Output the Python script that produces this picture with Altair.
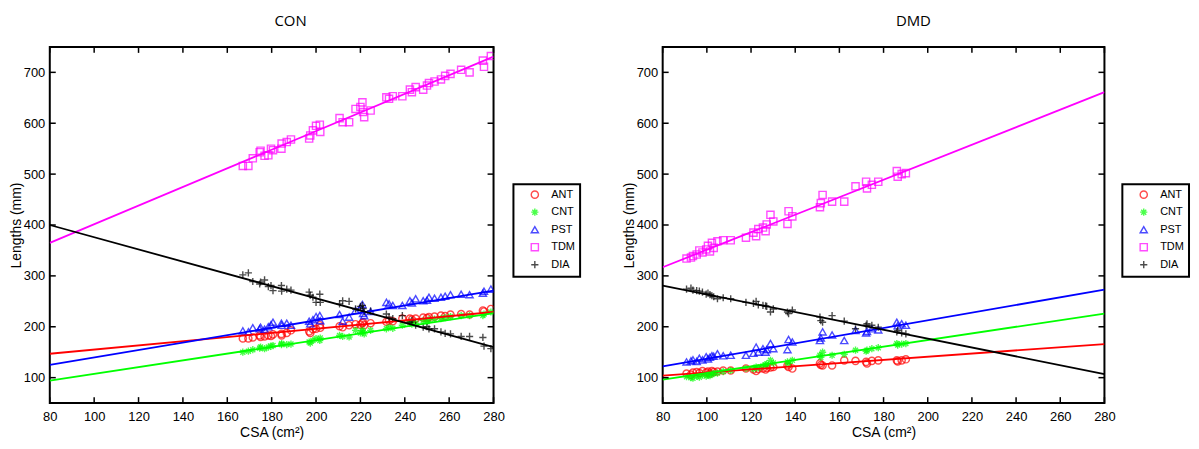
import altair as alt
import pandas as pd

SERIES = ["ANT", "CNT", "PST", "TDM", "DIA"]
COLORS = ["#ff0000", "#00ff00", "#0000ff", "#ff00ff", "#000000"]
ASTERISK = "M-1,0L1,0M0,-1L0,1M-0.7,-0.7L0.7,0.7M-0.7,0.7L0.7,-0.7"
PLUS = "M-1,0L1,0M0,-1L0,1"
SHAPES = ["circle", ASTERISK, "triangle-up", "square", PLUS]

X_TICKS = [80, 100, 120, 140, 160, 180, 200, 220, 240, 260, 280]
Y_TICKS = [100, 200, 300, 400, 500, 600, 700]
FIT_X = [80, 280]

# ---- CON ----
CON_CSA = [167.0, 169.5, 171.5, 174.6, 175.0, 176.8, 178.5, 179.7, 180.6, 184.4,
           184.5, 186.8, 188.7, 196.9, 197.4, 198.6, 200.0, 201.7, 201.9, 210.6,
           212.0, 214.9, 217.8, 220.0, 220.9, 221.2, 221.7, 224.6, 231.7, 232.9,
           234.6, 238.9, 242.3, 243.2, 244.9, 248.3, 250.0, 250.9, 253.4, 256.3,
           258.2, 260.6, 265.4, 269.2, 275.2, 275.7, 278.8]
CON_ANT = [177, 177, 179, 183, 180, 181, 183, 182, 185, 186, 183, 188, 193, 191, 188, 195,
           196, 203, 198, 201, 199, 203, 205, 204, 207, 209, 203, 207, 210, 212, 211, 216,
           216, 214, 216, 218, 217, 219, 220, 222, 221, 224, 225, 224, 232, 230, 235]
CON_CNT = [150, 152, 155, 158, 160, 157, 160, 162, 163, 165, 167, 165, 166, 170, 168, 173,
           177, 173, 178, 183, 181, 180, 193, 188, 193, 190, 186, 193, 196, 199, 197, 203,
           209, 205, 207, 212, 210, 214, 215, 216, 218, 220, 222, 222, 222, 225, 229]
CON_PST = [192, 190, 198, 196, 199, 195, 200, 204, 209, 207, 203, 207, 203, 211, 206, 214,
           220, 222, 212, 224, 211, 219, 232, 238, 244, 226, 222, 230, 248, 245, 242, 242,
           251, 247, 255, 251, 252, 258, 256, 258, 260, 263, 264, 263, 266, 270, 274]
CON_TDM = [516, 516, 531, 543, 546, 536, 537, 550, 547, 550, 560, 563, 568, 570, 576, 586,
           595, 597, 583, 610, 602, 602, 628, 632, 641, 622, 612, 625, 651, 648, 653, 653,
           666, 661, 671, 666, 674, 679, 682, 686, 693, 697, 705, 700, 723, 711, 732]
CON_DIA = [302, 306, 289, 284, 288, 292, 279, 281, 271, 281, 270, 274, 272, 268, 262, 258,
           248, 264, 248, 245, 251, 250, 235, 240, 242, 236, 229, 231, 225, 219, 216, 222,
           209, 212, 203, 199, 200, 196, 196, 190, 187, 186, 181, 181, 179, 162, 157]
CON_FIT_START = [147, 94, 125, 365, 400]   # at CSA = 80, order of SERIES
CON_FIT_END = [229, 227, 271, 731, 160]    # at CSA = 280

# ---- DMD ----
DMD_CSA = [90.8, 92.8, 93.7, 95.4, 96.6, 98.0, 99.7, 100.5, 101.4, 102.3,
           103.1, 104.8, 107.4, 110.8, 117.7, 121.1, 122.3, 123.3, 125.4, 126.6,
           127.1, 128.8, 130.1, 136.5, 137.0, 138.7, 151.2, 151.6, 152.4, 156.7,
           162.2, 167.3, 172.1, 172.5, 174.7, 177.6, 186.0, 186.4, 188.2, 190.1]
DMD_ANT = [108, 106, 110, 111, 109, 113, 110, 112, 108, 113, 111, 112, 114, 114, 118, 116,
           113, 117, 118, 116, 119, 120, 121, 124, 121, 118, 128, 125, 124, 124, 134, 133,
           131, 128, 133, 134, 134, 132, 134, 136]
DMD_CNT = [102, 100, 99, 103, 101, 105, 103, 105, 104, 107, 108, 109, 112, 114, 118, 117,
           121, 119, 123, 125, 127, 134, 129, 131, 128, 134, 144, 140, 150, 144, 146, 154,
           152, 154, 157, 159, 167, 164, 166, 167]
DMD_PST = [131, 133, 135, 132, 138, 135, 141, 137, 140, 143, 142, 147, 143, 144, 144, 148,
           160, 150, 157, 150, 155, 167, 157, 155, 175, 170, 173, 178, 190, 184, 173, 193,
           188, 191, 196, 194, 209, 202, 206, 203]
DMD_TDM = [334, 336, 339, 342, 350, 346, 352, 359, 348, 365, 355, 368, 370, 370, 375, 385,
           378, 392, 395, 388, 401, 420, 407, 402, 427, 417, 435, 443, 459, 446, 446, 476,
           485, 472, 479, 485, 506, 495, 500, 502]
DMD_DIA = [274, 276, 272, 271, 270, 268, 264, 266, 263, 261, 259, 255, 257, 255, 248, 246,
           250, 243, 242, 241, 240, 229, 235, 229, 226, 233, 219, 212, 209, 222, 211, 196,
           203, 206, 203, 199, 190, 193, 188, 186]
DMD_FIT_START = [104, 96, 122, 317, 281]
DMD_FIT_END = [166, 226, 273, 661, 107]

H = 358
TICK = 6


def panel(title, csa, values, fit_start, fit_end, dx, width, leg_x):
    rows = []
    for name, vals in zip(SERIES, values):
        for c, v in zip(csa, vals):
            rows.append({"csa": c, "len": v, "series": name})
    pts = pd.DataFrame(rows)
    frows = []
    for name, col, a, b in zip(SERIES, COLORS, fit_start, fit_end):
        frows.append({"csa": FIT_X[0], "len": a, "series": name, "hex": col})
        frows.append({"csa": FIT_X[1], "len": b, "series": name, "hex": col})
    fit = pd.DataFrame(frows)
    xt = pd.DataFrame({"v": X_TICKS})
    yt = pd.DataFrame({"v": Y_TICKS})

    xs = alt.Scale(domain=[80, 280], nice=False, zero=False)
    ys = alt.Scale(domain=[50, 750], nice=False, zero=False)
    xaxis = alt.Axis(values=X_TICKS, title="CSA (cm²)", ticks=False, tickSize=0,
                     domain=False, grid=False, labelPadding=7, titlePadding=3,
                     labelFlush=False)
    yaxis = alt.Axis(values=Y_TICKS, title="Lengths (mm)", ticks=False, tickSize=0,
                     domain=False, grid=False, labelPadding=5, titlePadding=0)

    leg = alt.Legend(title=None, orient="none", legendX=leg_x, legendY=138)

    lines = alt.Chart(fit).mark_line(strokeWidth=1.8, clip=True).encode(
        x=alt.X("csa:Q", scale=xs, axis=xaxis),
        y=alt.Y("len:Q", scale=ys, axis=yaxis),
        color=alt.Color("hex:N", scale=None),
        detail="series:N",
    )
    points = alt.Chart(pts).mark_point(filled=False, strokeWidth=1.4, size=52, clip=True).encode(
        x=alt.X("csa:Q", scale=xs, axis=xaxis),
        y=alt.Y("len:Q", scale=ys, axis=yaxis),
        color=alt.Color("series:N", scale=alt.Scale(domain=SERIES, range=COLORS), legend=leg),
        shape=alt.Shape("series:N", scale=alt.Scale(domain=SERIES, range=SHAPES), legend=leg),
    )
    tick_b = alt.Chart(xt).mark_rule(color="black", strokeWidth=1.5).encode(
        x=alt.X("v:Q", scale=xs, axis=xaxis), y=alt.value(H), y2=alt.value(H - TICK))
    tick_t = alt.Chart(xt).mark_rule(color="black", strokeWidth=1.5).encode(
        x=alt.X("v:Q", scale=xs, axis=xaxis), y=alt.value(0), y2=alt.value(TICK))
    tick_l = alt.Chart(yt).mark_rule(color="black", strokeWidth=1.5).encode(
        y=alt.Y("v:Q", scale=ys, axis=yaxis), x=alt.value(0), x2=alt.value(TICK))
    tick_r = alt.Chart(yt).mark_rule(color="black", strokeWidth=1.5).encode(
        y=alt.Y("v:Q", scale=ys, axis=yaxis), x=alt.value(width), x2=alt.value(width - TICK))

    return alt.layer(points, lines, tick_b, tick_t, tick_l, tick_r).properties(
        width=width, height=H,
        title=alt.TitleParams(title, dx=dx, fontSize=15, font="Open Sans",
                              fontWeight="normal", offset=17, frame="group",
                              anchor="middle", color="black"),
    )


left = panel("CON", CON_CSA, [CON_ANT, CON_CNT, CON_PST, CON_TDM, CON_DIA],
             CON_FIT_START, CON_FIT_END, 19, 446, 466)
right = panel("DMD", DMD_CSA, [DMD_ANT, DMD_CNT, DMD_PST, DMD_TDM, DMD_DIA],
              DMD_FIT_START, DMD_FIT_END, 30, 444, 462)

chart = alt.hconcat(left, right, spacing=39,
                    padding={"top": 4, "left": 0, "right": 0, "bottom": 0}).resolve_scale(
    color="independent", shape="independent"
).resolve_legend(
    color="independent", shape="independent"
).configure_view(
    stroke="black", strokeWidth=2
).configure_axis(
    labelFont="Liberation Sans", labelFontSize=13, labelColor="black",
    titleFont="Liberation Sans", titleFontSize=14, titleFontWeight="normal",
    titleColor="black",
).configure_legend(
    strokeColor="black", strokeWidth=2, fillColor="white", padding=5,
    labelFont="Liberation Sans", labelFontSize=11, labelColor="black",
    symbolSize=52, symbolStrokeWidth=1.4, symbolOffset=11, labelOffset=11,
    rowPadding=4.6, cornerRadius=0,
)

chart.save("out.html", embed_options={"renderer": "svg", "actions": False})
